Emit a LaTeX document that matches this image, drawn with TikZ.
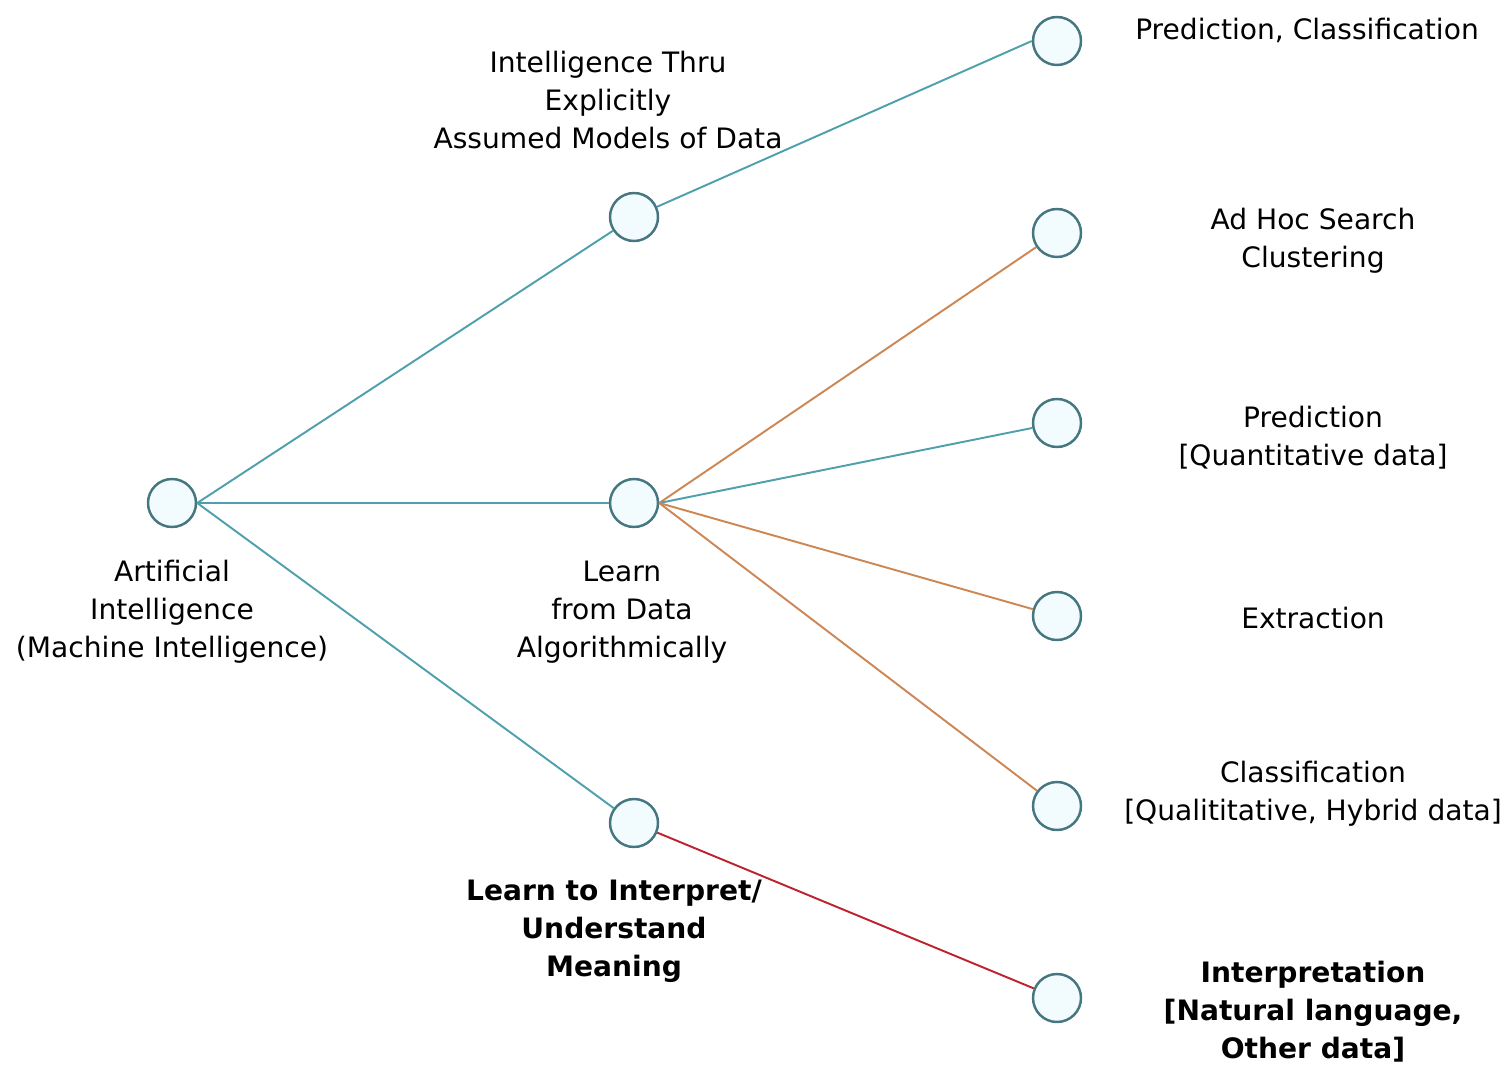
\documentclass[tikz,border=0pt]{standalone}
\usepackage{fontspec}
\setmainfont{DejaVu Sans}
\usetikzlibrary{positioning}

\definecolor{tealline}{RGB}{78,160,172}
\definecolor{tealring}{RGB}{70,118,128}
\definecolor{ringfill}{RGB}{242,252,255}
\definecolor{orangeline}{RGB}{205,135,85}
\definecolor{redline}{RGB}{190,35,45}

\begin{document}
\begin{tikzpicture}
	\begin{scope}[x=0.02cm, y=-0.02cm]
		\useasboundingbox (0,0) rectangle (1507,1067);
		\tikzstyle{every node}=[align=center, inner sep=0.2em, font=\fontsize{16}{21.6}\selectfont]
		\tikzstyle{ring}=[circle, draw=tealring, fill=ringfill, line width=1.4pt, minimum size=0.96cm, inner sep=0pt]
		\tikzstyle{link}=[line width=1.1pt]

		% circles
		\node[ring] (ai)    at (172, 503)  {};
		\node[ring] (thru)  at (634, 217)  {};
		\node[ring] (learn) at (634, 503)  {};
		\node[ring] (mean)  at (634, 823)  {};

		\node[ring] (pc)     at (1057, 41)  {};
		\node[ring] (ahs)    at (1057, 233) {};
		\node[ring] (pq)     at (1057, 423) {};
		\node[ring] (ext)    at (1057, 616) {};
		\node[ring] (cls)    at (1057, 806) {};
		\node[ring] (interp) at (1057, 998) {};

		% labels
		\node (ailab)    at (172, 612)  {Artificial\\Intelligence\\(Machine Intelligence)};
		\node (thrulab)  at (608, 100)  {Intelligence Thru\\Explicitly\\Assumed Models of Data};
		\node (learnlab) at (622, 612)  {Learn\\from Data\\Algorithmically};
		\node (meanlab)  at (614, 931)  {\bfseries Learn to Interpret/\\\bfseries Understand\\\bfseries Meaning};

		\node (pclab)     at (1307, 30)   {Prediction, Classification};
		\node (ahslab)    at (1313, 241)  {Ad Hoc Search\\Clustering};
		\node (pqlab)     at (1313, 438)  {Prediction\\{[Quantitative data]}};
		\node (extlab)    at (1313, 618)  {Extraction};
		\node (clslab)    at (1313, 794)  {Classification\\{[Qualititative, Hybrid data]}};
		\node (interplab) at (1313, 1012) {\bfseries Interpretation\\\bfseries{[Natural language,}\\\bfseries{Other data]}};

		% branches out of the root
		\draw [link, tealline] (ai.east) to (thru);
		\draw [link, tealline] (ai.east) to (learn);
		\draw [link, tealline] (ai.east) to (mean);

		% second level
		\draw [link, tealline] (thru) to (pc.west);

		\draw [link, orangeline] (learn.east) to (ahs);
		\draw [link, tealline]   (learn.east) to (pq);
		\draw [link, orangeline] (learn.east) to (ext);
		\draw [link, orangeline] (learn.east) to (cls);

		\draw [link, redline] (mean) to (interp);

	\end{scope}
\end{tikzpicture}
\end{document}
